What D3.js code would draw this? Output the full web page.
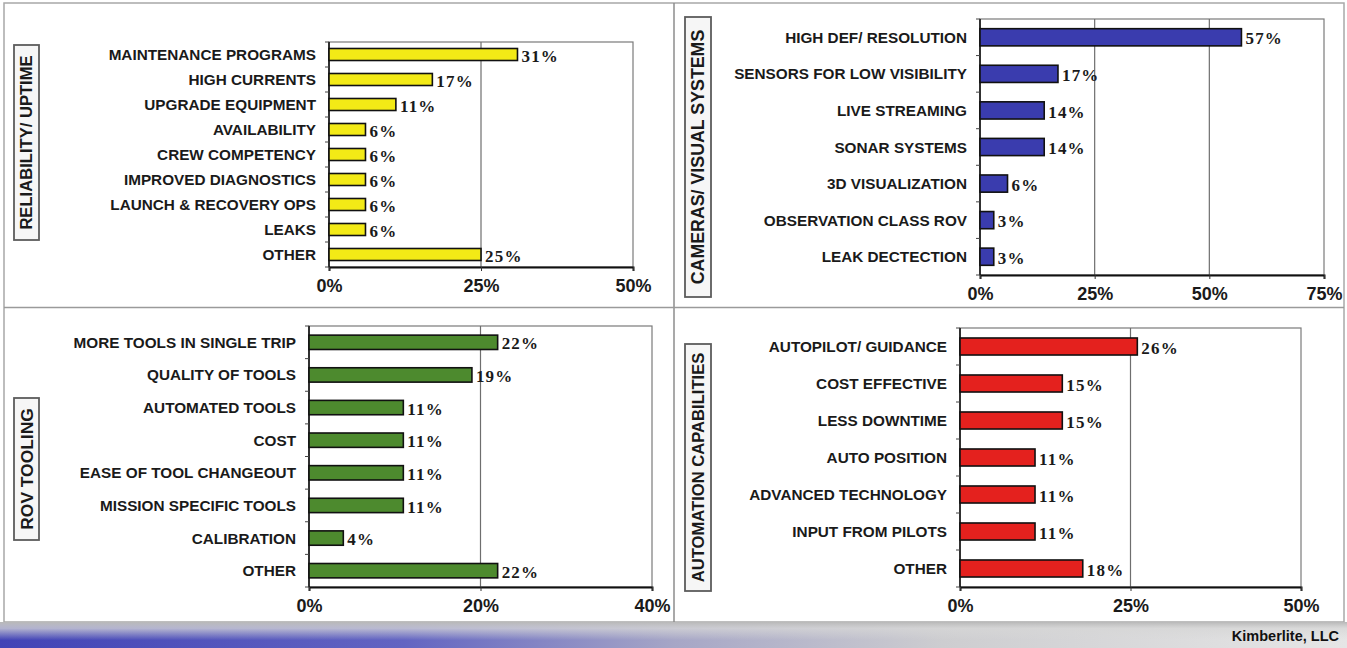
<!DOCTYPE html>
<html>
<head>
<meta charset="utf-8">
<script src="https://cdn.jsdelivr.net/npm/d3@7"></script>
<style>
  html, body { margin: 0; padding: 0; background: #ffffff; }
  svg { display: block; }
</style>
</head>
<body>
<svg id="chart" width="1347" height="648"></svg>
<script>
// ---- Survey results (percent of responses) ----
const reliabilityCategories = ["MAINTENANCE PROGRAMS", "HIGH CURRENTS", "UPGRADE EQUIPMENT", "AVAILABILITY",
  "CREW COMPETENCY", "IMPROVED DIAGNOSTICS", "LAUNCH & RECOVERY OPS", "LEAKS", "OTHER"];
const reliabilityValues = [31, 17, 11, 6, 6, 6, 6, 6, 25];
const reliabilityTicks = [0, 25, 50];

const camerasCategories = ["HIGH DEF/ RESOLUTION", "SENSORS FOR LOW VISIBILITY", "LIVE STREAMING",
  "SONAR SYSTEMS", "3D VISUALIZATION", "OBSERVATION CLASS ROV", "LEAK DECTECTION"];
const camerasValues = [57, 17, 14, 14, 6, 3, 3];
const camerasTicks = [0, 25, 50, 75];

const toolingCategories = ["MORE TOOLS IN SINGLE TRIP", "QUALITY OF TOOLS", "AUTOMATED TOOLS", "COST",
  "EASE OF TOOL CHANGEOUT", "MISSION SPECIFIC TOOLS", "CALIBRATION", "OTHER"];
const toolingValues = [22, 19, 11, 11, 11, 11, 4, 22];
const toolingTicks = [0, 20, 40];

const automationCategories = ["AUTOPILOT/ GUIDANCE", "COST EFFECTIVE", "LESS DOWNTIME", "AUTO POSITION",
  "ADVANCED TECHNOLOGY", "INPUT FROM PILOTS", "OTHER"];
const automationValues = [26, 15, 15, 11, 11, 11, 18];
const automationTicks = [0, 25, 50];

const panelTitles = ["RELIABILITY/ UPTIME", "CAMERAS/ VISUAL SYSTEMS", "ROV TOOLING", "AUTOMATION CAPABILITIES"];
const footerText = "Kimberlite, LLC";

// ---- Layout of the four quadrants ----
const panels = [
  { title: panelTitles[0], cats: reliabilityCategories, vals: reliabilityValues, ticks: reliabilityTicks,
    color: "#f3ea16", x0: 329, x1: 633, y0: 42, y1: 267, pad: 0.52, box: [14, 45, 25, 195], titleSize: 16.6 },
  { title: panelTitles[1], cats: camerasCategories, vals: camerasValues, ticks: camerasTicks,
    color: "#3a3cae", x0: 980, x1: 1324, y0: 19, y1: 275, pad: 0.53, box: [685, 17, 26, 280], titleSize: 17.8 },
  { title: panelTitles[2], cats: toolingCategories, vals: toolingValues, ticks: toolingTicks,
    color: "#4d8a2e", x0: 309, x1: 652, y0: 326, y1: 587, pad: 0.56, box: [14, 398, 25, 142], titleSize: 17.4 },
  { title: panelTitles[3], cats: automationCategories, vals: automationValues, ticks: automationTicks,
    color: "#e4211e", x0: 960, x1: 1301, y0: 328, y1: 587, pad: 0.54, box: [685, 344, 26, 247], titleSize: 16.6 }
];

const svg = d3.select("#chart");

// ---- Page frame and dividers ----
const frame = svg.append("g");
frame.append("rect").attr("x", 4).attr("y", 3).attr("width", 1340).attr("height", 619)
  .attr("fill", "none").attr("stroke", "#a8a8a8").attr("stroke-width", 1.5);
frame.append("line").attr("x1", 674).attr("x2", 674).attr("y1", 3).attr("y2", 622)
  .attr("stroke", "#8c8c8c").attr("stroke-width", 1.5);
frame.append("line").attr("x1", 4).attr("x2", 1344).attr("y1", 307.5).attr("y2", 307.5)
  .attr("stroke", "#9a9a9a").attr("stroke-width", 1.5);

// ---- Footer band ----
const defs = svg.append("defs");
const gH = defs.append("linearGradient").attr("id", "footH").attr("x1", "0").attr("x2", "1").attr("y1", "0").attr("y2", "0");
[["0", "#4143b6"], ["0.3", "#6264c2"], ["0.5", "#a6a6c6"], ["0.7", "#cdcdd0"], ["1", "#e6e6e6"]]
  .forEach(([o, c]) => gH.append("stop").attr("offset", o).attr("stop-color", c));
const gV = defs.append("linearGradient").attr("id", "footV").attr("x1", "0").attr("x2", "0").attr("y1", "0").attr("y2", "1");
[["0", "#b8b8b8", 1], ["0.25", "#d6d6d6", 0.75], ["0.7", "#d8d8d8", 0]]
  .forEach(([o, c, a]) => gV.append("stop").attr("offset", o).attr("stop-color", c).attr("stop-opacity", a));
svg.append("rect").attr("x", 0).attr("y", 622).attr("width", 1347).attr("height", 26).attr("fill", "url(#footH)");
svg.append("rect").attr("x", 0).attr("y", 622).attr("width", 1347).attr("height", 26).attr("fill", "url(#footV)");
svg.append("text").attr("x", 1339).attr("y", 641).attr("text-anchor", "end")
  .attr("font-family", "Liberation Sans, Arial, sans-serif").attr("font-weight", "bold")
  .attr("font-size", 14.5).attr("fill", "#111").text(footerText);

// ---- One horizontal bar chart per quadrant ----
panels.forEach(p => {
  const g = svg.append("g");
  const x = d3.scaleLinear().domain([0, p.ticks[p.ticks.length - 1]]).range([p.x0, p.x1]);
  const y = d3.scaleBand().domain(p.cats).range([p.y0, p.y1]).paddingInner(p.pad).paddingOuter(p.pad / 2);
  const step = y.step();

  // plot frame
  g.append("rect").attr("x", p.x0).attr("y", p.y0).attr("width", p.x1 - p.x0).attr("height", p.y1 - p.y0)
    .attr("fill", "#ffffff").attr("stroke", "#7a7a7a").attr("stroke-width", 1.2);

  // vertical gridlines
  g.selectAll(".grid").data(p.ticks.slice(1, -1)).join("line")
    .attr("x1", d => x(d)).attr("x2", d => x(d)).attr("y1", p.y0).attr("y2", p.y1)
    .attr("stroke", "#6e6e6e").attr("stroke-width", 1.2);

  // bottom axis
  const xAxis = d3.axisBottom(x).tickValues(p.ticks).tickSize(4).tickFormat(d => d + "%");
  const ax = g.append("g").attr("transform", `translate(0,${p.y1})`).call(xAxis);
  ax.select(".domain").attr("stroke", "#111").attr("stroke-width", 2);
  ax.selectAll(".tick line").attr("stroke", "#333");
  ax.selectAll(".tick text")
    .attr("y", 12).attr("dy", "0.71em")
    .attr("font-family", "Liberation Sans Narrow, Arial Narrow, Liberation Sans, sans-serif")
    .attr("font-weight", "bold").attr("font-size", 18).attr("fill", "#1a1a1a");

  // left axis with ticks at the band boundaries
  g.append("line").attr("x1", p.x0).attr("x2", p.x0).attr("y1", p.y0).attr("y2", p.y1)
    .attr("stroke", "#111").attr("stroke-width", 1.6);
  g.selectAll(".btick").data(d3.range(p.cats.length + 1)).join("line")
    .attr("x1", p.x0 - 4).attr("x2", p.x0).attr("y1", i => p.y0 + i * step).attr("y2", i => p.y0 + i * step)
    .attr("stroke", "#444").attr("stroke-width", 1);

  // category labels
  g.selectAll(".cat").data(p.cats).join("text")
    .attr("x", p.x0 - 13).attr("y", d => y(d) + y.bandwidth() / 2).attr("dy", "0.36em")
    .attr("text-anchor", "end")
    .attr("font-family", "Liberation Sans, Arial, sans-serif").attr("font-weight", "bold")
    .attr("font-size", 15.3).attr("fill", "#1a1a1a").text(d => d);

  // bars
  g.selectAll(".bar").data(p.cats).join("rect")
    .attr("x", p.x0).attr("y", d => y(d))
    .attr("width", (d, i) => x(p.vals[i]) - p.x0).attr("height", y.bandwidth())
    .attr("fill", p.color).attr("stroke", "#111").attr("stroke-width", 1.6);

  // value labels
  g.selectAll(".val").data(p.cats).join("text")
    .attr("x", (d, i) => x(p.vals[i]) + 4).attr("y", d => y(d) + y.bandwidth() / 2).attr("dy", "0.42em")
    .attr("font-family", "Liberation Serif, Times New Roman, serif").attr("font-weight", "bold")
    .attr("font-size", 17).attr("letter-spacing", 1.2).attr("fill", "#1a1a1a")
    .text((d, i) => p.vals[i] + "%");

  // rotated section title in a box
  const [bx, by, bw, bh] = p.box;
  g.append("rect").attr("x", bx).attr("y", by).attr("width", bw).attr("height", bh)
    .attr("fill", "#f6f6f6").attr("stroke", "#5c5c5c").attr("stroke-width", 1.8);
  g.append("text")
    .attr("transform", `translate(${bx + bw / 2},${by + bh / 2}) rotate(-90)`)
    .attr("text-anchor", "middle").attr("dy", "0.36em")
    .attr("font-family", "Liberation Sans, Arial, sans-serif").attr("font-weight", "bold")
    .attr("font-size", p.titleSize).attr("fill", "#1a1a1a").text(p.title);
});
</script>
</body>
</html>
